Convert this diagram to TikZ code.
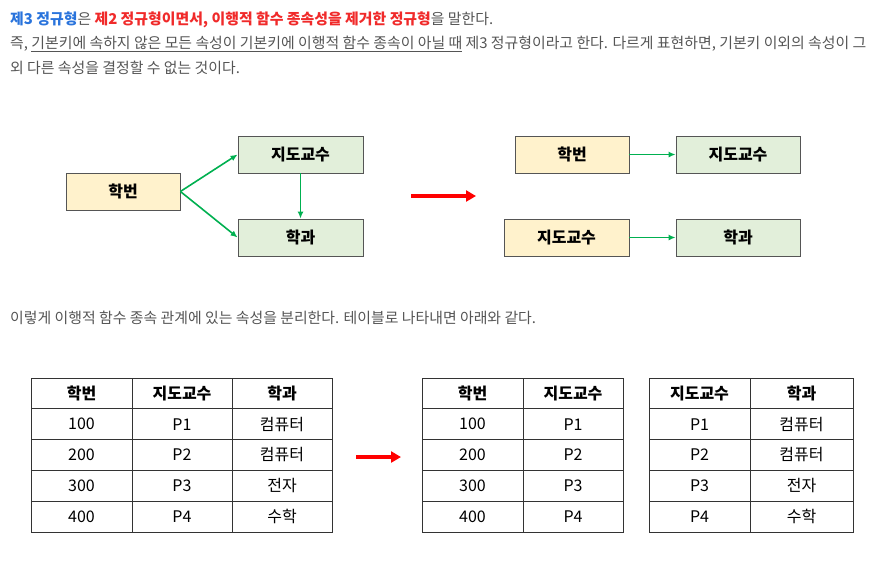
\documentclass[tikz,border=0pt]{standalone}
\usepackage{fontspec}
\setmainfont{Noto Sans CJK KR}
\usetikzlibrary{arrows.meta}
\definecolor{txtgray}{HTML}{555555}
\definecolor{hlblue}{HTML}{2A74DC}
\definecolor{hlred}{HTML}{F02A2A}
\definecolor{boxyel}{HTML}{FFF2CC}
\definecolor{boxgrn}{HTML}{E2EFDA}
\definecolor{boxline}{HTML}{555555}
\definecolor{arrgrn}{HTML}{00B050}
\definecolor{tblline}{HTML}{333333}
\tikzset{
  bodytext/.style={anchor=base west, inner sep=0pt, text=txtgray, font=\fontsize{14.9}{18}\selectfont},
  attr/.style={draw=boxline, line width=0.8pt, minimum height=37pt, inner sep=0pt, font=\fontsize{16}{19}\selectfont\bfseries, text=black},
  ybox/.style={attr, fill=boxyel},
  gbox/.style={attr, fill=boxgrn},
  dep/.style={draw=arrgrn, line width=1.6pt, -{Latex[length=7pt,width=6pt]}},
  bigarrow/.style={draw=red, line width=3.5pt, -{Triangle[length=10pt,width=11pt]}},
  cell/.style={draw=tblline, line width=0.9pt, minimum height=30.8pt, inner sep=0pt, font=\fontsize{16}{19}\selectfont, text=black},
  row0/.style={font=\fontsize{16}{19}\selectfont\bfseries},
  row1/.style={}, row2/.style={}, row3/.style={}, row4/.style={}
}
\begin{document}
\begin{tikzpicture}[x=1pt,y=-1pt]
\useasboundingbox (0,0) rectangle (878,563);
% text lines
\node[bodytext] (l1) at (10,24) {{\bfseries\color{hlblue}제3 정규형}은 {\bfseries\color{hlred}제2 정규형이면서, 이행적 함수 종속성을 제거한 정규형}을 말한다.};
\node[bodytext] (l2) at (10,48.5) {즉, \underline{기본키에 속하지 않은 모든 속성이 기본키에 이행적 함수 종속이 아닐 때} 제3 정규형이라고 한다. 다르게 표현하면, 기본키 이외의 속성이 그};
\node[bodytext] (l3) at (10,73) {외 다른 속성을 결정할 수 없는 것이다.};
\node[bodytext] (l4) at (10,323) {이렇게 이행적 함수 종속 관계에 있는 속성을 분리한다. 테이블로 나타내면 아래와 같다.};
% left diagram
\node[ybox, minimum width=114pt] (hb) at (123,191.5) {학번};
\node[gbox, minimum width=125pt] (jd) at (300.5,154.5) {지도교수};
\node[gbox, minimum width=125pt] (hg) at (300.5,237.5) {학과};
\draw[dep] (hb.east) -- (jd.west);
\draw[dep] (hb.east) -- (hg.west);
\draw[dep] (jd.south) -- (hg.north);
% big arrow
\coordinate (a1s) at (411,196);
\coordinate (a1e) at (476,196);
\draw[bigarrow] (a1s) -- (a1e);
% right diagram
\node[ybox, minimum width=114pt] (hb2) at (572,154.5) {학번};
\node[gbox, minimum width=124pt] (jd2) at (738,154.5) {지도교수};
\node[ybox, minimum width=125pt] (jd3) at (566.5,237.5) {지도교수};
\node[gbox, minimum width=124pt] (hg2) at (738,237.5) {학과};
\draw[dep] (hb2.east) -- (jd2.west);
\draw[dep] (jd3.east) -- (hg2.west);
% table 1
\foreach \a/\b/\c [count=\i from 0] in {학번/지도교수/학과,100/P1/컴퓨터,200/P2/컴퓨터,300/P3/전자,400/P4/수학} {
  \pgfmathsetmacro\yy{393.4+30.8*\i}
  \node[cell, row\i, minimum width=101pt] (ta\i a) at (81.5,\yy) {\a};
  \node[cell, row\i, minimum width=100pt] (ta\i b) at (182,\yy) {\b};
  \node[cell, row\i, minimum width=100pt] (ta\i c) at (282,\yy) {\c};
}
% arrow
\coordinate (a2s) at (356,457);
\coordinate (a2e) at (401,457);
\draw[bigarrow] (a2s) -- (a2e);
% table 2
\foreach \a/\b [count=\i from 0] in {학번/지도교수,100/P1,200/P2,300/P3,400/P4} {
  \pgfmathsetmacro\yy{393.4+30.8*\i}
  \node[cell, row\i, minimum width=101pt] (tb\i a) at (472.5,\yy) {\a};
  \node[cell, row\i, minimum width=100pt] (tb\i b) at (573,\yy) {\b};
}
% table 3
\foreach \a/\b [count=\i from 0] in {지도교수/학과,P1/컴퓨터,P2/컴퓨터,P3/전자,P4/수학} {
  \pgfmathsetmacro\yy{393.4+30.8*\i}
  \node[cell, row\i, minimum width=101pt] (tc\i a) at (699.5,\yy) {\a};
  \node[cell, row\i, minimum width=103pt] (tc\i b) at (801.5,\yy) {\b};
}
\end{tikzpicture}
\end{document}
